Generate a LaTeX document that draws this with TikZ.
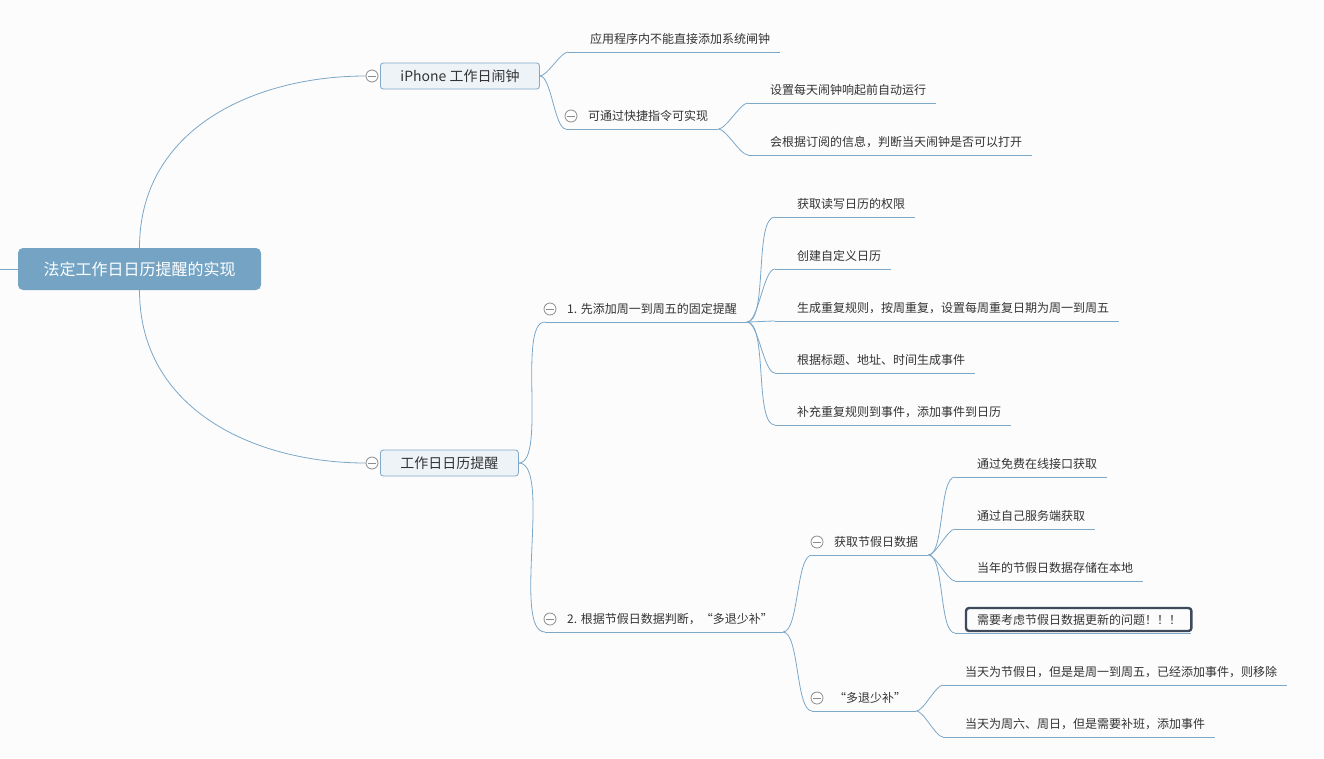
\documentclass[tikz,border=0pt]{standalone}
\usepackage{fontspec}
\setmainfont{Noto Sans CJK SC}

\definecolor{pagebg}{HTML}{FCFCFC}
\definecolor{linkblue}{HTML}{7BA7C9}
\definecolor{rootfill}{HTML}{74A3C4}
\definecolor{topicfill}{HTML}{EEF3F8}
\definecolor{topicline}{HTML}{80A8C8}
\definecolor{foldgray}{HTML}{8C8C8C}
\definecolor{alertline}{HTML}{3C4A5B}
\definecolor{inkgray}{HTML}{333333}

\tikzset{
  link/.style={draw=linkblue, line width=0.8pt},
  central/.style={fill=rootfill, rounded corners=5pt, text=white, minimum width=243pt, minimum height=42pt,
    font=\fontsize{16}{18}\selectfont, text height=14.1pt, text depth=1.9pt},
  topic/.style={anchor=west, draw=topicline, fill=topicfill, rounded corners=3pt, line width=0.8pt,
    minimum height=26pt, inner xsep=20pt, text=inkgray,
    font=\fontsize{14}{16}\selectfont, text height=12.3pt, text depth=1.7pt},
  leaf/.style={anchor=south west, inner xsep=10pt, inner ysep=7pt, text=inkgray,
    font=\fontsize{12}{14}\selectfont, text height=10.56pt, text depth=1.44pt,
    execute at begin node=\hspace{12pt}},
  fold/.style={circle, draw=foldgray, fill=white, minimum size=12pt, inner sep=0pt, line width=0.8pt,
    path picture={\draw[foldgray, line width=0.8pt]
      ([xshift=-3.8pt]path picture bounding box.center) -- ([xshift=3.8pt]path picture bounding box.center);}},
  alert/.style={draw=alertline, line width=2.4pt, rounded corners=3pt},
}

\begin{document}
\begin{tikzpicture}[x=1pt, y=-1pt]
  \fill[pagebg] (0,0) rectangle (1324,758);
  \useasboundingbox (0,0) rectangle (1324,758);

  % root and main topics
  \node[central] (root) at (139.5,269) {法定工作日日历提醒的实现};
  \coordinate (stub) at (0,269);
  \node[fold] (f1) at (372,76) {};
  \node[fold] (f2) at (372,463) {};
  \node[topic] (iphone) at (380,76) {iPhone 工作日闹钟};
  \node[topic] (cal) at (380,463) {工作日日历提醒};

  \draw[link] (root.west) -- (stub);
  \draw[link] (root.north) .. controls +(0,-120) and +(-110,0) .. (f1.west);
  \draw[link] (root.south) .. controls +(0,120) and +(-110,0) .. (f2.west);

  % iPhone branch
  \node[leaf] (a1) at (568,52) {应用程序内不能直接添加系统闸钟};
  \node[leaf] (a2) at (566,129) {可通过快捷指令可实现};
  \node[leaf] (a21) at (748,103) {设置每天闹钟响起前自动运行};
  \node[leaf] (a22) at (748,155) {会根据订阅的信息，判断当天闹钟是否可以打开};

  % calendar branch
  \node[leaf] (b1) at (545,322) {1. 先添加周一到周五的固定提醒};
  \node[leaf] (b11) at (775,217) {获取读写日历的权限};
  \node[leaf] (b12) at (775,269) {创建自定义日历};
  \node[leaf] (b13) at (775,321) {生成重复规则，按周重复，设置每周重复日期为周一到周五};
  \node[leaf] (b14) at (775,373) {根据标题、地址、时间生成事件};
  \node[leaf] (b15) at (775,425) {补充重复规则到事件，添加事件到日历};
  \node[leaf] (b2) at (545,632) {2. 根据节假日数据判断，“多退少补”};
  \node[leaf] (b21) at (812,555) {获取节假日数据};
  \node[leaf] (b211) at (955,477) {通过免费在线接口获取};
  \node[leaf] (b212) at (955,529) {通过自己服务端获取};
  \node[leaf] (b213) at (955,581) {当年的节假日数据存储在本地};
  \node[leaf] (b214) at (955,633) {需要考虑节假日数据更新的问题！！！};
  \node[leaf] (b22) at (812,711) {“多退少补”};
  \node[leaf] (b221) at (943,685) {当天为节假日，但是是周一到周五，已经添加事件，则移除};
  \node[leaf] (b222) at (943,737) {当天为周六、周日，但是需要补班，添加事件};

  \foreach \n in {a1,a2,a21,a22,b1,b11,b12,b13,b14,b15,b2,b21,b211,b212,b213,b214,b22,b221,b222}
    \draw[link] (\n.south west) -- (\n.south east);

  \draw[link] (iphone.east) to[out=0, in=180, looseness=0.5] (a1.south west);
  \draw[link] (iphone.east) to[out=0, in=180, looseness=0.5] (a2.south west);
  \draw[link] (a2.south east) to[out=0, in=180, looseness=0.5] (a21.south west);
  \draw[link] (a2.south east) to[out=0, in=180, looseness=0.5] (a22.south west);
  \draw[link] (cal.east) to[out=0, in=180, looseness=0.5] (b1.south west);
  \draw[link] (cal.east) to[out=0, in=180, looseness=0.5] (b2.south west);
  \draw[link] (b1.south east) to[out=0, in=180, looseness=0.5] (b11.south west);
  \draw[link] (b1.south east) to[out=0, in=180, looseness=0.5] (b12.south west);
  \draw[link] (b1.south east) to[out=0, in=180, looseness=0.5] (b13.south west);
  \draw[link] (b1.south east) to[out=0, in=180, looseness=0.5] (b14.south west);
  \draw[link] (b1.south east) to[out=0, in=180, looseness=0.5] (b15.south west);
  \draw[link] (b2.south east) to[out=0, in=180, looseness=0.5] (b21.south west);
  \draw[link] (b2.south east) to[out=0, in=180, looseness=0.5] (b22.south west);
  \draw[link] (b21.south east) to[out=0, in=180, looseness=0.5] (b211.south west);
  \draw[link] (b21.south east) to[out=0, in=180, looseness=0.5] (b212.south west);
  \draw[link] (b21.south east) to[out=0, in=180, looseness=0.5] (b213.south west);
  \draw[link] (b21.south east) to[out=0, in=180, looseness=0.5] (b214.south west);
  \draw[link] (b22.south east) to[out=0, in=180, looseness=0.5] (b221.south west);
  \draw[link] (b22.south east) to[out=0, in=180, looseness=0.5] (b222.south west);

  % highlighted item
  \draw[alert] ([xshift=11pt,yshift=2pt]b214.south west) rectangle ([yshift=25pt]b214.south east);

  % fold markers
  \node[fold] (fa2) at ([shift={(5,-13)}]a2.south west) {};
  \node[fold] (fb1) at ([shift={(5,-13)}]b1.south west) {};
  \node[fold] (fb2) at ([shift={(5,-13)}]b2.south west) {};
  \node[fold] (fb21) at ([shift={(5,-13)}]b21.south west) {};
  \node[fold] (fb22) at ([shift={(5,-13)}]b22.south west) {};
\end{tikzpicture}
\end{document}
